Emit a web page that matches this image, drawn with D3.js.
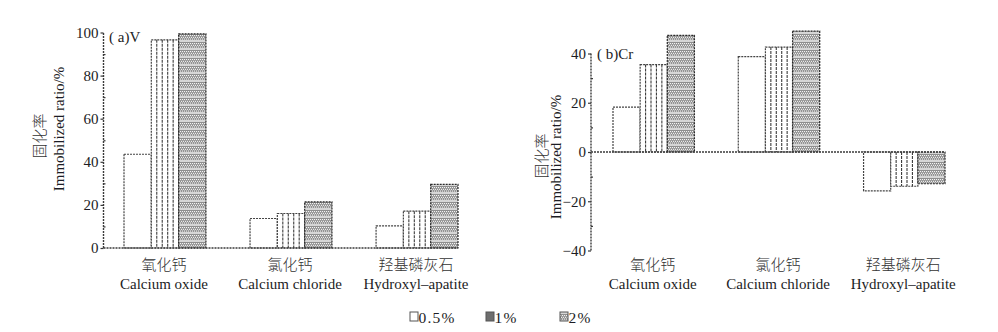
<!DOCTYPE html>
<html>
<head>
<meta charset="utf-8">
<script src="https://cdn.jsdelivr.net/npm/d3@7"></script>
<style>
  body { margin: 0; background: #fff; }
  svg { display: block; }
</style>
</head>
<body>
<svg id="chart" width="998" height="332"></svg>
<script>
// Amendments and doses
const categoriesCn = ["氧化钙", "氯化钙", "羟基磷灰石"];
const categoriesEn = ["Calcium oxide", "Calcium chloride", "Hydroxyl–apatite"];
const seriesNames = ["0.5%", "1%", "2%"];

// Immobilized ratio (%) of V, per dose, in category order
const vDose05 = [43.5, 13.7, 10.3];
const vDose1  = [96.6, 16.0, 17.1];
const vDose2  = [99.4, 21.4, 29.5];

// Immobilized ratio (%) of Cr
const crDose05 = [18.2, 38.7, -15.8];
const crDose1  = [35.5, 42.6, -13.9];
const crDose2  = [47.4, 49.1, -12.9];

const vTicks = [0, 20, 40, 60, 80, 100];
const vMinorTicks = [10, 30, 50, 70, 90];
const crTicks = [-40, -20, 0, 20, 40];
const crMinorTicks = [-30, -10, 10, 30];

const SERIF = "'Liberation Serif', 'DejaVu Serif', serif";
const CJK = "'Noto Sans CJK SC', sans-serif";
const INK = "#1c1c24";
const LINE = "#3a3a3a";

const svg = d3.select("#chart");
const defs = svg.append("defs");

// fine halftone texture used for the 2% bars: checker dots with light horizontal bands
const dense = defs.append("pattern")
  .attr("id", "dense")
  .attr("patternUnits", "userSpaceOnUse")
  .attr("width", 4).attr("height", 8);
dense.append("rect").attr("width", 4).attr("height", 8).attr("fill", "#8e8e8e");
dense.append("rect").attr("y", 0).attr("width", 4).attr("height", 2).attr("fill", "#d6d6d6");
[[0, 3], [2, 3], [1, 4.8], [3, 4.8], [0, 6.5], [2, 6.5]].forEach(([xx, yy]) =>
  dense.append("rect").attr("x", xx).attr("y", yy).attr("width", 1.1).attr("height", 1.1).attr("fill", "#f4f4f4"));

function drawPanel(p) {
  const g = svg.append("g");
  const y = d3.scaleLinear().domain(p.yDomain).range(p.yRange);
  const x = d3.scaleBand().domain(categoriesEn)
    .range([p.barStart, p.axisEnd]).paddingInner(0.35).paddingOuter(0);
  const xs = d3.scaleBand().domain(seriesNames).range([0, x.bandwidth()]);

  const series = seriesNames.map((name, i) => ({ name, values: p.values[i] }));
  const y0 = y(0);

  series.forEach((s, si) => {
    const cells = categoriesEn.map((c, ci) => ({ c, v: s.values[ci] }));
    const bars = g.append("g").selectAll("g").data(cells).join("g");
    bars.append("rect")
      .attr("x", d => x(d.c) + xs(s.name))
      .attr("y", d => Math.min(y(d.v), y0))
      .attr("width", xs.bandwidth())
      .attr("height", d => Math.abs(y(d.v) - y0))
      .attr("fill", si === 2 ? "url(#dense)" : "#fff")
      .attr("stroke", si === 2 ? "#2a2a2a" : "#444")
      .attr("stroke-width", 1.2)
      .attr("stroke-dasharray", "2,1");
    if (si === 1) {
      // vertical hatching for the 1% bars
      bars.each(function (d) {
        const x0 = x(d.c) + xs(s.name);
        const top = Math.min(y(d.v), y0), bot = Math.max(y(d.v), y0);
        for (let k = 1; k < 5; k++) {
          d3.select(this).append("line")
            .attr("x1", x0 + xs.bandwidth() * k / 5).attr("x2", x0 + xs.bandwidth() * k / 5)
            .attr("y1", top).attr("y2", bot)
            .attr("stroke", "#3c3c3c").attr("stroke-width", 1.1)
            .attr("stroke-dasharray", "3,1");
        }
      });
    }
  });

  // baseline through zero
  g.append("line")
    .attr("x1", p.axisX).attr("x2", p.axisEnd)
    .attr("y1", y0).attr("y2", y0)
    .attr("stroke", LINE).attr("stroke-width", 1.4).attr("stroke-dasharray", "2,1");

  // y axis
  const yAxis = g.append("g").attr("transform", `translate(${p.axisX},0)`)
    .call(d3.axisLeft(y).tickValues(p.ticks).tickSize(3).tickPadding(2).tickFormat(d3.format("d")));
  yAxis.select(".domain").remove();
  yAxis.selectAll(".tick line").attr("stroke", LINE).attr("stroke-width", 1.2);
  yAxis.selectAll(".tick text")
    .attr("font-family", SERIF).attr("font-size", 15).attr("fill", INK);
  const yMinor = g.append("g").attr("transform", `translate(${p.axisX},0)`)
    .call(d3.axisRight(y).tickValues(p.minorTicks).tickSize(2).tickFormat(""));
  yMinor.select(".domain").remove();
  yMinor.selectAll(".tick line").attr("stroke", LINE).attr("stroke-width", 1.2);
  g.append("line")
    .attr("x1", p.axisX).attr("x2", p.axisX)
    .attr("y1", y(p.yDomain[0])).attr("y2", y(p.yDomain[1]))
    .attr("stroke", LINE).attr("stroke-width", 1.4).attr("stroke-dasharray", "2,1");

  // category labels
  categoriesEn.forEach((c, i) => {
    const cx = x(c) + x.bandwidth() / 2 - 1;
    g.append("text").attr("x", cx).attr("y", 263)
      .attr("text-anchor", "middle").attr("dominant-baseline", "central")
      .attr("font-family", CJK).attr("font-size", 15).attr("font-weight", 300)
      .attr("fill", "#333").text(categoriesCn[i]);
    g.append("text").attr("x", cx).attr("y", 284)
      .attr("text-anchor", "middle").attr("dominant-baseline", "central")
      .attr("font-family", SERIF).attr("font-size", 15).attr("fill", INK).text(c);
  });

  // y titles
  g.append("text")
    .attr("transform", `translate(${p.titleCnX},${p.titleCnY}) rotate(-90)`)
    .attr("text-anchor", "middle").attr("dominant-baseline", "central")
    .attr("font-family", CJK).attr("font-size", 15).attr("font-weight", 300)
    .attr("fill", "#333").text("固化率");
  g.append("text")
    .attr("transform", `translate(${p.titleEnX},${p.titleEnY}) rotate(-90)`)
    .attr("text-anchor", "middle").attr("dominant-baseline", "central")
    .attr("font-family", SERIF).attr("font-size", 15).attr("fill", INK)
    .text("Immobilized ratio/%");

  // panel tag
  g.append("text").attr("x", p.tagX).attr("y", p.tagY)
    .attr("dominant-baseline", "central")
    .attr("font-family", SERIF).attr("font-size", 15).attr("fill", INK)
    .text(p.tag);
}

drawPanel({
  values: [vDose05, vDose1, vDose2],
  yDomain: [0, 100], yRange: [248, 32.5],
  ticks: vTicks, minorTicks: vMinorTicks,
  axisX: 103.5, barStart: 124, axisEnd: 458,
  titleCnX: 38, titleCnY: 136, titleEnX: 59, titleEnY: 129,
  tag: "( a)V", tagX: 109, tagY: 37
});

drawPanel({
  values: [crDose05, crDose1, crDose2],
  yDomain: [-40, 40], yRange: [250.5, 53.5],
  ticks: crTicks, minorTicks: crMinorTicks,
  axisX: 591, barStart: 613, axisEnd: 945,
  titleCnX: 540, titleCnY: 156, titleEnX: 556, titleEnY: 157,
  tag: "( b)Cr", tagX: 597, tagY: 54
});

// legend
const legendX = [410, 486, 560];
const legend = svg.append("g");
seriesNames.forEach((name, i) => {
  const lg = legend.append("g").attr("transform", `translate(${legendX[i]},312)`);
  lg.append("rect").attr("width", 8).attr("height", 9)
    .attr("fill", i === 0 ? "#fff" : i === 1 ? "#6e6e6e" : "url(#dense)")
    .attr("stroke", "#555").attr("stroke-width", 1);
  lg.append("text").attr("x", 8.5).attr("y", 5)
    .attr("dominant-baseline", "central")
    .attr("font-family", SERIF).attr("font-size", 15.5).attr("letter-spacing", 1.2)
    .attr("fill", INK).text(name);
});
</script>
</body>
</html>
